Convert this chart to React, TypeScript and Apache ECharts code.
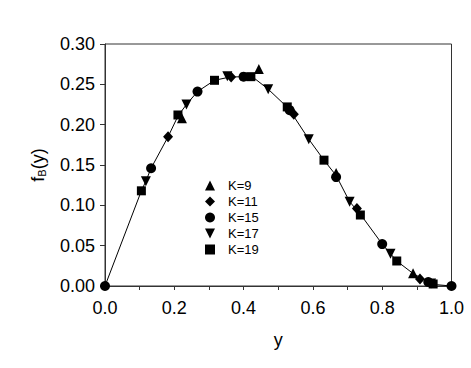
import React, { useEffect, useRef } from "react";
import * as echarts from "echarts";

const xTicks = [0, 0.2, 0.4, 0.6, 0.8, 1.0];
const yTicks = [0, 0.05, 0.1, 0.15, 0.2, 0.25, 0.3];

const k9: [number, number][] = [
  [0.222, 0.208], [0.444, 0.269], [0.667, 0.14], [0.889, 0.0157],
];
const k11: [number, number][] = [
  [0.182, 0.185], [0.364, 0.259], [0.545, 0.213], [0.727, 0.096], [0.909, 0.0087],
];
const k15: [number, number][] = [
  [0, 0], [0.133, 0.146], [0.267, 0.241], [0.4, 0.2595], [0.533, 0.218],
  [0.667, 0.135], [0.8, 0.052], [0.933, 0.005], [1, 0],
];
const k17: [number, number][] = [
  [0.118, 0.13], [0.235, 0.225], [0.353, 0.26], [0.471, 0.244], [0.588, 0.182],
  [0.706, 0.1045], [0.824, 0.04], [0.941, 0.003],
];
const k19: [number, number][] = [
  [0.105, 0.118], [0.2105, 0.212], [0.316, 0.255], [0.421, 0.2595], [0.526, 0.222],
  [0.632, 0.156], [0.737, 0.088], [0.842, 0.031], [0.947, 0.0025],
];
const curve: [number, number][] = [
  [0, 0], [0.105, 0.118], [0.118, 0.13], [0.133, 0.146], [0.182, 0.185],
  [0.211, 0.211], [0.235, 0.225], [0.267, 0.241], [0.316, 0.255], [0.36, 0.259],
  [0.4, 0.2595], [0.425, 0.2595], [0.471, 0.244], [0.53, 0.22], [0.588, 0.182],
  [0.632, 0.156], [0.667, 0.137], [0.706, 0.1045], [0.737, 0.089], [0.8, 0.052],
  [0.842, 0.031], [0.889, 0.0155], [0.933, 0.005], [0.96, 0.0015], [1, 0],
];

const INV_TRI = "path://M0,0 L10,0 L5,10 Z";
const FONT = "Liberation Sans";

export default function App() {
  const ref = useRef<HTMLDivElement>(null);
  useEffect(() => {
    if (!ref.current) return;
    const chart = echarts.init(ref.current, undefined, { renderer: "svg" });
    const scatter = (name: string, data: [number, number][], symbol: string, size: any) => ({
      name,
      type: "scatter",
      data,
      symbol,
      symbolSize: size,
      itemStyle: { color: "#000", opacity: 1 },
      z: 3,
    });
    chart.setOption({
      animation: false,
      backgroundColor: "#fff",
      textStyle: { fontFamily: FONT },
      grid: {
        left: 105,
        right: 19.5,
        top: 44,
        bottom: 82,
        show: true,
        borderColor: "#333",
        borderWidth: 1,
        containLabel: false,
      },
      legend: {
        orient: "vertical",
        left: 200,
        top: 174,
        itemWidth: 10,
        itemHeight: 10,
        itemGap: 3,
        textStyle: {
          fontSize: 13,
          color: "#000",
          fontFamily: FONT,
          lineHeight: 13,
          padding: [0, 0, 0, 8],
        },
        data: ["K=9", "K=11", "K=15", "K=17", "K=19"],
      },
      xAxis: {
        type: "value",
        min: 0,
        max: 1,
        interval: 0.1,
        name: "y",
        nameLocation: "middle",
        nameGap: 45,
        nameTextStyle: { fontSize: 18, color: "#000", fontFamily: FONT },
        axisLine: { show: true, onZero: false, lineStyle: { color: "#333", width: 1 } },
        axisTick: { show: true, inside: false, length: 4, lineStyle: { color: "#333" } },
        splitLine: { show: false },
        axisLabel: {
          fontSize: 18,
          color: "#000",
          margin: 13,
          fontFamily: FONT,
          formatter: (v: number) => {
            const hit = xTicks.find((t) => Math.abs(t - v) < 1e-6);
            return hit !== undefined ? hit.toFixed(1) : "";
          },
        },
      },
      yAxis: {
        type: "value",
        min: 0,
        max: 0.3,
        interval: 0.05,
        name: "{a|f}{b|B}{a|(y)}",
        nameLocation: "middle",
        nameGap: 58,
        nameRotate: 90,
        nameTextStyle: {
          fontFamily: FONT,
          color: "#000",
          rich: {
            a: { fontSize: 18, color: "#000", fontFamily: FONT },
            b: { fontSize: 11, color: "#000", fontFamily: FONT, padding: [8, 0, 0, 0] },
          },
        },
        axisLine: { show: true, onZero: false, lineStyle: { color: "#333", width: 1 } },
        axisTick: { show: true, inside: false, length: 5, lineStyle: { color: "#333" } },
        splitLine: { show: false },
        axisLabel: {
          fontSize: 18,
          color: "#000",
          margin: 10,
          fontFamily: FONT,
          formatter: (v: number) => {
            const hit = yTicks.find((t) => Math.abs(t - v) < 1e-6);
            return hit !== undefined ? hit.toFixed(2) : "";
          },
        },
      },
      series: [
        {
          name: "curve",
          type: "line",
          data: curve,
          symbol: "none",
          lineStyle: { color: "#000", width: 1 },
          z: 2,
        },
        scatter("K=9", k9, "triangle", 10),
        scatter("K=11", k11, "diamond", [10, 11]),
        scatter("K=15", k15, "circle", 10),
        scatter("K=17", k17, INV_TRI, 10),
        scatter("K=19", k19, "rect", 9),
      ],
    });
    return () => chart.dispose();
  }, []);
  return (
    <div
      ref={ref}
      style={{ width: 471, height: 368, position: "absolute", left: 0, top: 0 }}
    />
  );
}
